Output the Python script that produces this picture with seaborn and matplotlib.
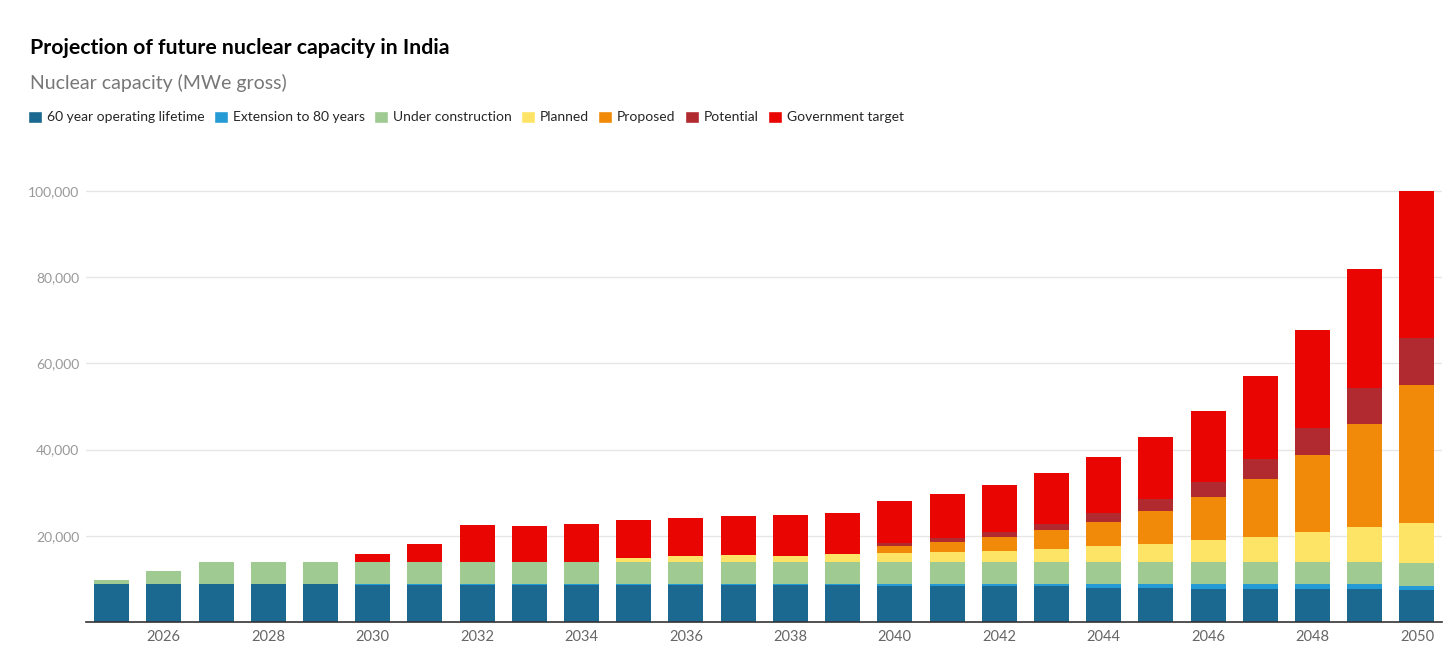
import matplotlib

matplotlib.use("Agg")
import matplotlib.pyplot as plt
import pandas as pd
import seaborn as sns
from matplotlib.patches import Patch
from matplotlib.ticker import FuncFormatter

years = list(range(2025, 2051))

# MWe gross
sixty_year = [8780, 8780, 8780, 8780, 8780, 8600, 8600, 8600, 8600, 8600,
              8600, 8600, 8600, 8600, 8600, 8400, 8400, 8400, 8400, 8000,
              8000, 7700, 7700, 7700, 7700, 7400]
extension = [0, 0, 0, 0, 0, 180, 180, 180, 180, 180,
             180, 180, 180, 180, 180, 380, 380, 380, 380, 780,
             780, 1080, 1080, 1080, 1080, 950]
under_construction = [960, 3100, 5220, 5220, 5220, 5220, 5220, 5220, 5220, 5220,
                      5220, 5220, 5220, 5220, 5220, 5220, 5220, 5220, 5220, 5220,
                      5220, 5220, 5220, 5220, 5220, 5250]
planned = [0, 0, 0, 0, 0, 0, 0, 0, 0, 0,
           900, 1300, 1500, 1400, 1800, 1900, 2200, 2500, 3000, 3600,
           4200, 5000, 5800, 6900, 8000, 9400]
proposed = [0, 0, 0, 0, 0, 0, 0, 0, 0, 0,
            0, 0, 0, 0, 0, 1800, 2400, 3300, 4300, 5600,
            7600, 10100, 13400, 17800, 23900, 32000]
potential = [0, 0, 0, 0, 0, 0, 0, 0, 0, 0,
             0, 0, 0, 0, 0, 600, 1000, 1100, 1500, 2100,
             2700, 3400, 4700, 6300, 8400, 11000]
government_target = [0, 0, 0, 0, 0, 1700, 4200, 8400, 8350, 8700,
                     8800, 8800, 9100, 9400, 9500, 9800, 10200, 10900, 11800, 12900,
                     14400, 16500, 19200, 22700, 27500, 34000]

series = {
    "60 year operating lifetime": sixty_year,
    "Extension to 80 years": extension,
    "Under construction": under_construction,
    "Planned": planned,
    "Proposed": proposed,
    "Potential": potential,
    "Government target": government_target,
}
colors = {
    "60 year operating lifetime": "#1b6890",
    "Extension to 80 years": "#259bd6",
    "Under construction": "#9fca91",
    "Planned": "#fee466",
    "Proposed": "#f28a09",
    "Potential": "#b02a30",
    "Government target": "#e80502",
}

W, H = 1456, 657

sns.set_theme(style="white")
plt.rcParams["font.family"] = ["Lato", "DejaVu Sans"]

df = pd.DataFrame(series, index=[str(y) for y in years])
cum = df.cumsum(axis=1)

fig = plt.figure(figsize=(W / 100, H / 100), dpi=100)
ymax = 100500
ax = fig.add_axes([86 / W, 1 - 622 / H, (1442 - 86) / W, 431 * ymax / 100000 / H])

# stacked bars: draw cumulative totals from the top layer down
for name in reversed(list(series)):
    sns.barplot(x=cum.index, y=cum[name].values, color=colors[name], saturation=1,
                width=0.67, errorbar=None, linewidth=0, ax=ax)

ax.set_xlim(-0.49, 25.48)
ax.set_ylim(0, ymax)
ax.set_xlabel("")
ax.set_ylabel("")
ax.set_xticks(range(1, 26, 2))
ax.set_xticklabels([str(y) for y in years[1::2]])
ax.set_yticks(range(20000, 100001, 20000))
ax.yaxis.set_major_formatter(FuncFormatter(lambda v, _: f"{int(v):,}"))
ax.tick_params(axis="y", length=0, pad=5, labelcolor="#999999", labelsize=10)
ax.tick_params(axis="x", length=0, pad=6, labelcolor="#666666", labelsize=10.5)
ax.yaxis.grid(True, color="#e6e6e6", linewidth=1)
ax.set_axisbelow(True)
for side in ["top", "right", "left"]:
    ax.spines[side].set_visible(False)
ax.spines["bottom"].set_color("#333333")
ax.spines["bottom"].set_linewidth(1.2)

fig.text(30 / W, 1 - 48 / H, "Projection of future nuclear capacity in India",
         fontsize=15.3, fontweight="bold", va="center", color="#000000")
fig.text(30 / W, 1 - 83 / H, "Nuclear capacity (MWe gross)",
         fontsize=14, va="center", color="#777777")

handles = [Patch(facecolor=colors[n], label=n) for n in series]
fig.legend(handles=handles, loc="center left", bbox_to_anchor=(28 / W, 1 - 117 / H),
           ncol=7, frameon=False, handlelength=1.0, handleheight=1.0,
           handletextpad=0.35, columnspacing=0.68, fontsize=10,
           borderaxespad=0, borderpad=0)

fig.savefig("out.png", dpi=100)
plt.close(fig)
